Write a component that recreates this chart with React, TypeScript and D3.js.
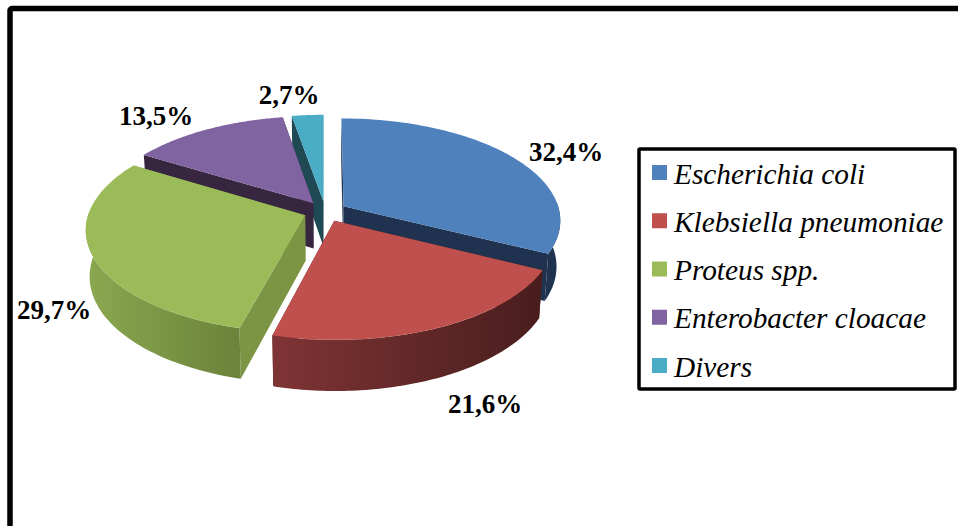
import React from "react";
import * as d3 from "d3";

const categories = ["Escherichia coli", "Klebsiella pneumoniae", "Proteus spp.", "Enterobacter cloacae", "Divers"];
const shares = [32.4, 21.6, 29.7, 13.5, 2.7];
const valueLabels = ["32,4%", "21,6%", "29,7%", "13,5%", "2,7%"];

const topColors = ["#4f81bd", "#c0504d", "#9bbb59", "#8064a2", "#4bacc6"];
const cutColors = ["#1f3350", "#4f2020", "#7b9545", "#372640", "#1f4a55"];
const rimStart = ["#1f3350", "#7f3434", "#8ba850", "#372640", "#1f4a55"];
const rimEnd = ["#1f3452", "#491d1d", "#6b833b", "#372640", "#1f4a55"];

const labelAnchors: [number, number][] = [[566, 161], [485, 413], [54, 319], [156, 125], [289, 104]];

// Tilted disc with a mild perspective: farther points shrink, the base sits below the top face.
const CX = 325.3, CY = 211.5, RX = 216, RY = 100.7, PERSPECTIVE = 0.132, DEPTH = 45.5, BASE_SCALE = 0.984, EXPLODE = 0.1;

function project(dx: number, dy: number, level: number): [number, number] {
  const p = 1 / (1 + PERSPECTIVE * dy);
  const s = level ? BASE_SCALE : 1;
  return [CX + RX * dx * p * s, CY - RY * dy * p * s + DEPTH * level * p];
}

const line = d3.line<[number, number]>().curve(d3.curveLinear);
const closed = (pts: [number, number][]) => line(pts) + "Z";

const pieLayout = d3.pie<number>().sort(null).value((d) => d);

function buildSlice(a0: number, a1: number) {
  const mid = (a0 + a1) / 2;
  const ox = EXPLODE * Math.sin(mid), oy = EXPLODE * Math.cos(mid);
  const rim = (t: number, level: number) => project(ox + Math.sin(t), oy + Math.cos(t), level);
  const steps = d3.range(0, 81).map((i) => a0 + ((a1 - a0) * i) / 80);
  const apex = (level: number) => project(ox, oy, level);
  const top = closed([apex(0), ...steps.map((t) => rim(t, 0))]);
  const wall = (t: number) => closed([apex(0), rim(t, 0), rim(t, 1), apex(1)]);
  const front = steps.filter((t) => Math.cos(t) < 0.05);
  const outer = front.length
    ? closed([...front.map((t) => rim(t, 0)), ...[...front].reverse().map((t) => rim(t, 1))])
    : null;
  const xs = front.map((t) => rim(t, 0)[0]);
  return { top, startWall: wall(a0), endWall: wall(a1), outer, x0: d3.min(xs) ?? 0, x1: d3.max(xs) ?? 0 };
}

const arcs = pieLayout(shares);
const slices = arcs.map((a) => buildSlice(a.startAngle, a.endAngle));
const paintOrder = [4, 3, 0, 2, 1];

const legendRow = d3.scaleLinear().domain([0, 4]).range([172.5, 365.5]);
const SERIF = "'Liberation Serif', 'Times New Roman', serif";

export default function App() {
  return (
    <svg
      width={958}
      height={526}
      viewBox="0 0 958 526"
      style={{ position: "absolute", left: 0, top: 0, display: "block", background: "#fff" }}
    >
      <defs>
        {slices.map((s, i) => (
          <linearGradient
            key={i}
            id={`rim-${i}`}
            gradientUnits="userSpaceOnUse"
            x1={s.x0}
            x2={s.x1}
            y1={0}
            y2={0}
          >
            <stop offset="0%" stopColor={rimStart[i]} />
            <stop offset="100%" stopColor={rimEnd[i]} />
          </linearGradient>
        ))}
      </defs>

      <rect x={10} y={8.5} width={970} height={540} rx={2} fill="#fff" stroke="#000" strokeWidth={5.5} />

      {paintOrder.map((i) => {
        const s = slices[i];
        return (
          <g key={i}>
            <path d={s.startWall} fill={cutColors[i]} />
            <path d={s.endWall} fill={cutColors[i]} />
            {s.outer && <path d={s.outer} fill={`url(#rim-${i})`} />}
            <path d={s.top} fill={topColors[i]} />
          </g>
        );
      })}

      {valueLabels.map((t, i) => (
        <text
          key={t}
          x={labelAnchors[i][0]}
          y={labelAnchors[i][1]}
          textAnchor="middle"
          fontFamily={SERIF}
          fontWeight="bold"
          fontSize={27}
          fill="#000"
        >
          {t}
        </text>
      ))}

      <rect x={639} y={149} width={316} height={240} rx={1} fill="#fff" stroke="#000" strokeWidth={3.5} />
      {categories.map((c, i) => {
        const y = legendRow(i);
        return (
          <g key={c}>
            <rect x={652} y={y - 7.5} width={15} height={15} fill={topColors[i]} />
            <text x={674} y={y + 11} fontFamily={SERIF} fontStyle="italic" fontSize={29.3} fill="#000">
              {c}
            </text>
          </g>
        );
      })}
    </svg>
  );
}
